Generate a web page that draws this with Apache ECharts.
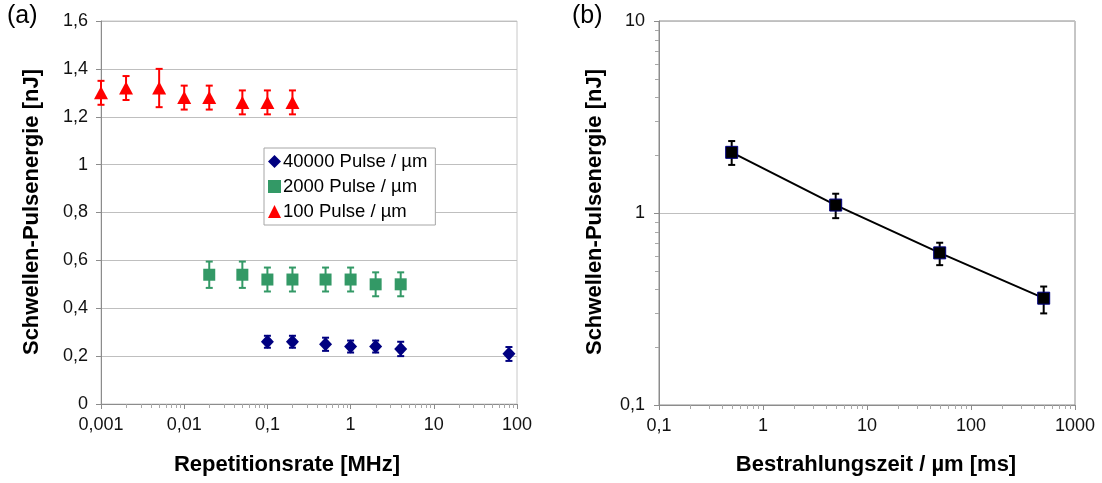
<!DOCTYPE html>
<html>
<head>
<meta charset="utf-8">
<script src="https://cdn.jsdelivr.net/npm/echarts@6/dist/echarts.min.js"></script>
<style>
html,body{margin:0;padding:0;background:#fff;}
#c{width:1102px;height:483px;}
</style>
</head>
<body>
<div id="c"></div>
<script>
// ---- Data (a) ----
const rateRed = [0.001, 0.002, 0.005, 0.01, 0.02, 0.05, 0.1, 0.2];
const energyRed = [1.30, 1.32, 1.32, 1.28, 1.28, 1.26, 1.26, 1.26];
const errRedLo = [1.25, 1.27, 1.24, 1.23, 1.23, 1.21, 1.21, 1.21];
const errRedHi = [1.35, 1.37, 1.40, 1.33, 1.33, 1.31, 1.31, 1.31];

const rateGreen = [0.02, 0.05, 0.1, 0.2, 0.5, 1, 2, 4];
const energyGreen = [0.54, 0.54, 0.52, 0.52, 0.52, 0.52, 0.50, 0.50];
const errGreenLo = [0.485, 0.485, 0.47, 0.47, 0.47, 0.47, 0.45, 0.45];
const errGreenHi = [0.595, 0.595, 0.57, 0.57, 0.57, 0.57, 0.55, 0.55];

const rateBlue = [0.1, 0.2, 0.5, 1, 2, 4, 80];
const energyBlue = [0.26, 0.26, 0.25, 0.24, 0.24, 0.23, 0.21];
const errBlueLo = [0.235, 0.235, 0.222, 0.215, 0.215, 0.20, 0.18];
const errBlueHi = [0.285, 0.285, 0.277, 0.265, 0.265, 0.26, 0.238];

const seriesNames = ['40000 Pulse / µm', '2000 Pulse / µm', '100 Pulse / µm'];

// ---- Data (b) ----
const timeB = [0.5, 5, 50, 500];
const energyB = [2.07, 1.10, 0.62, 0.36];
const errBLo = [1.78, 0.94, 0.535, 0.30];
const errBHi = [2.37, 1.26, 0.70, 0.414];

// ---- Axis labels / titles ----
const titleA = '(a)';
const titleB = '(b)';
const yTitle = 'Schwellen-Pulsenergie [nJ]';
const xTitleA = 'Repetitionsrate [MHz]';
const xTitleB = 'Bestrahlungszeit / µm [ms]';

// minor tick values for log axes (2..9 in each decade)
function minorTicks(d0, d1) {
  const out = [];
  for (let d = d0; d < d1; d++) for (let k = 2; k <= 9; k++) out.push(parseFloat((k * Math.pow(10, d)).toPrecision(6)));
  return out;
}

function fmt(v) {
  const s = parseFloat(Number(v).toPrecision(6)).toString();
  return s.replace('.', ',');
}

function errData(xs, lo, hi) { return xs.map((x, i) => [x, lo[i], hi[i]]); }
function pts(xs, ys) { return xs.map((x, i) => [x, ys[i]]); }

function errRender(color, cap) {
  return function (params, api) {
    const x = api.value(0), lo = api.value(1), hi = api.value(2);
    const p1 = api.coord([x, lo]), p2 = api.coord([x, hi]);
    const style = { stroke: color, lineWidth: 2 };
    return {
      type: 'group', children: [
        { type: 'line', shape: { x1: p1[0], y1: p1[1], x2: p2[0], y2: p2[1] }, style },
        { type: 'line', shape: { x1: p1[0] - cap, y1: p1[1], x2: p1[0] + cap, y2: p1[1] }, style },
        { type: 'line', shape: { x1: p2[0] - cap, y1: p2[1], x2: p2[0] + cap, y2: p2[1] }, style }
      ]
    };
  };
}

// minor ticks drawn via the axes' own scales
function xMinorRender(yBase, len, color) {
  return function (params, api) {
    const p = api.coord([api.value(0), yBase]);
    const x = Math.round(p[0]) + 0.5;
    return { type: 'line', shape: { x1: x, y1: p[1], x2: x, y2: p[1] + len }, style: { stroke: color, lineWidth: 1 } };
  };
}
function yMinorRender(xBase, len, color) {
  return function (params, api) {
    const p = api.coord([xBase, api.value(1)]);
    const y = Math.round(p[1]) + 0.5;
    return { type: 'line', shape: { x1: p[0], y1: y, x2: p[0] - len, y2: y }, style: { stroke: color, lineWidth: 1 } };
  };
}

const FONT = '"Liberation Sans", Arial, sans-serif';
const axisGrey = '#8c8c8c';
const gridGrey = '#bfbfbf';
const minorGrey = '#a8a8a8';
const labelStyle = { color: '#111', fontSize: 18, fontFamily: FONT };

const chart = echarts.init(document.getElementById('c'), null, { renderer: 'canvas' });

const option = {
  animation: false,
  backgroundColor: '#fff',
  grid: [
    { left: 101, right: 585, top: 21, bottom: 79, show: true, borderColor: '#c8c8c8', borderWidth: 1 },
    { left: 659, right: 27, top: 21, bottom: 78, show: true, borderColor: axisGrey, borderWidth: 1 }
  ],
  xAxis: [
    {
      type: 'log', gridIndex: 0, logBase: 10, min: 0.001, max: 100, splitNumber: 5,
      axisLine: { show: true, onZero: false, lineStyle: { color: axisGrey, width: 1 } },
      axisTick: { show: true, length: 5, lineStyle: { color: axisGrey } },
      axisLabel: Object.assign({ margin: 12, formatter: fmt }, labelStyle),
      splitLine: { show: false }
    },
    {
      type: 'log', gridIndex: 1, logBase: 10, min: 0.1, max: 1000, splitNumber: 4,
      axisLine: { show: true, onZero: false, lineStyle: { color: axisGrey, width: 1 } },
      axisTick: { show: true, length: 5, lineStyle: { color: axisGrey } },
      axisLabel: Object.assign({ margin: 12, formatter: fmt }, labelStyle),
      splitLine: { show: false }
    }
  ],
  yAxis: [
    {
      type: 'value', gridIndex: 0, min: 0, max: 1.6, interval: 0.2,
      axisLine: { show: true, onZero: false, lineStyle: { color: axisGrey, width: 1 } },
      axisTick: { show: true, length: 5, lineStyle: { color: axisGrey } },
      axisLabel: Object.assign({ margin: 13, formatter: fmt }, labelStyle),
      splitLine: { show: true, lineStyle: { color: gridGrey, width: 1 } }
    },
    {
      type: 'log', gridIndex: 1, logBase: 10, min: 0.1, max: 10, splitNumber: 2,
      axisLine: { show: true, onZero: false, lineStyle: { color: axisGrey, width: 1 } },
      axisTick: { show: true, length: 5, lineStyle: { color: axisGrey } },
      axisLabel: Object.assign({ margin: 14, formatter: fmt }, labelStyle),
      splitLine: { show: true, lineStyle: { color: gridGrey, width: 1 } }
    }
  ],
  legend: {
    data: seriesNames,
    orient: 'vertical',
    left: 264, top: 148,
    padding: [4, 8, 4, 4],
    itemGap: 6,
    itemWidth: 13, itemHeight: 13,
    backgroundColor: '#fff',
    borderColor: '#a6a6a6', borderWidth: 1, borderRadius: 0,
    textStyle: { color: '#000', fontSize: 18.5, fontFamily: FONT, padding: [0, 0, 0, -3] }
  },
  graphic: [
    { type: 'text', left: 7, top: 4, style: { text: titleA, fontSize: 25, fontFamily: FONT, fill: '#000' } },
    { type: 'text', left: 572, top: 4, style: { text: titleB, fontSize: 25, fontFamily: FONT, fill: '#000' } },
    { type: 'text', x: 32, y: 212, rotation: Math.PI / 2, style: { text: yTitle, fontSize: 22, fontWeight: 'bold', fontFamily: FONT, fill: '#000', align: 'center', verticalAlign: 'middle' } },
    { type: 'text', x: 595, y: 212, rotation: Math.PI / 2, style: { text: yTitle, fontSize: 22, fontWeight: 'bold', fontFamily: FONT, fill: '#000', align: 'center', verticalAlign: 'middle' } },
    { type: 'text', x: 287, y: 465, style: { text: xTitleA, fontSize: 22, fontWeight: 'bold', fontFamily: FONT, fill: '#000', align: 'center', verticalAlign: 'middle' } },
    { type: 'text', x: 876, y: 465, style: { text: xTitleB, fontSize: 22, fontWeight: 'bold', fontFamily: FONT, fill: '#000', align: 'center', verticalAlign: 'middle' } }
  ],
  series: [
    // minor ticks
    { type: 'custom', xAxisIndex: 0, yAxisIndex: 0, renderItem: xMinorRender(0, 4, minorGrey), data: minorTicks(-3, 2).map(v => [v, 0]), encode: { x: 0, y: 1 }, z: 1, silent: true, clip: false },
    { type: 'custom', xAxisIndex: 1, yAxisIndex: 1, renderItem: xMinorRender(0.1, 4, minorGrey), data: minorTicks(-1, 3).map(v => [v, 0.1]), encode: { x: 0, y: 1 }, z: 1, silent: true, clip: false },
    { type: 'custom', xAxisIndex: 1, yAxisIndex: 1, renderItem: yMinorRender(0.1, 4, minorGrey), data: minorTicks(-1, 1).map(v => [0.1, v]), encode: { x: 0, y: 1 }, z: 1, silent: true, clip: false },
    // error bars (a)
    { type: 'custom', xAxisIndex: 0, yAxisIndex: 0, renderItem: errRender('#ff0000', 3.5), data: errData(rateRed, errRedLo, errRedHi), encode: { x: 0, y: [1, 2] }, z: 2, silent: true },
    { type: 'custom', xAxisIndex: 0, yAxisIndex: 0, renderItem: errRender('#339966', 3.5), data: errData(rateGreen, errGreenLo, errGreenHi), encode: { x: 0, y: [1, 2] }, z: 2, silent: true },
    { type: 'custom', xAxisIndex: 0, yAxisIndex: 0, renderItem: errRender('#000080', 3.5), data: errData(rateBlue, errBlueLo, errBlueHi), encode: { x: 0, y: [1, 2] }, z: 2, silent: true },
    // markers (a)
    { name: seriesNames[0], type: 'scatter', xAxisIndex: 0, yAxisIndex: 0, symbol: 'diamond', symbolSize: [13, 14], itemStyle: { color: '#000080', opacity: 1 }, data: pts(rateBlue, energyBlue), z: 3 },
    { name: seriesNames[1], type: 'scatter', xAxisIndex: 0, yAxisIndex: 0, symbol: 'rect', symbolSize: 12, itemStyle: { color: '#339966', opacity: 1 }, data: pts(rateGreen, energyGreen), z: 3 },
    { name: seriesNames[2], type: 'scatter', xAxisIndex: 0, yAxisIndex: 0, symbol: 'triangle', symbolSize: [14, 13], itemStyle: { color: '#ff0000', opacity: 1 }, data: pts(rateRed, energyRed), z: 3 },
    // (b)
    { type: 'custom', xAxisIndex: 1, yAxisIndex: 1, renderItem: errRender('#000', 3.5), data: errData(timeB, errBLo, errBHi), encode: { x: 0, y: [1, 2] }, z: 2, silent: true },
    { type: 'line', xAxisIndex: 1, yAxisIndex: 1, data: pts(timeB, energyB), symbol: 'rect', symbolSize: 12, showSymbol: true,
      lineStyle: { color: '#000', width: 2 }, itemStyle: { color: '#000', borderColor: '#000080', borderWidth: 1, opacity: 1 }, z: 3 }
  ]
};
chart.setOption(option);
</script>
</body>
</html>
